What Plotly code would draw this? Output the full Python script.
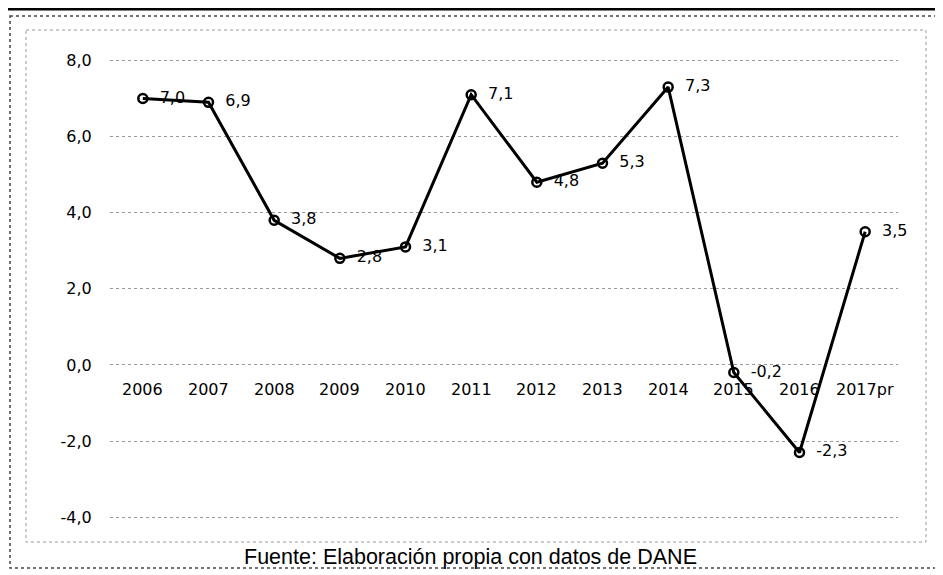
import plotly.graph_objects as go

# Datos
anios = ["2006", "2007", "2008", "2009", "2010", "2011", "2012", "2013", "2014", "2015", "2016", "2017pr"]
valores = [7.0, 6.9, 3.8, 2.8, 3.1, 7.1, 4.8, 5.3, 7.3, -0.2, -2.3, 3.5]
etiquetas = [f"{v:.1f}".replace(".", ",") for v in valores]
y_ticks = [8, 6, 4, 2, 0, -2, -4]
y_ticktext = [f"{v:.1f}".replace(".", ",") for v in y_ticks]
fuente = "Fuente: Elaboración propia con datos de DANE"

# la página tiene 8px de margen: todo se desplaza 8px
OFF = 8
W, H = 943 - OFF, 575 - OFF
L, R, T, B = 110 - OFF, 45, 30 - OFF, 35
pw, ph = W - L - R, H - T - B


def px_x(x):
    return (x - OFF - L) / pw


def px_y(y):
    return 1 - (y - OFF - T) / ph


fuente_ejes = dict(family="DejaVu Sans", size=16, color="black")

fig = go.Figure()

fig.add_trace(go.Scatter(
    x=anios,
    y=valores,
    mode="lines+markers+text",
    text=["  " + t for t in etiquetas],
    textposition="middle right",
    textfont=fuente_ejes,
    line=dict(color="black", width=3),
    marker=dict(symbol="circle-open", size=9, color="black", line=dict(width=2.5)),
    cliponaxis=False,
    showlegend=False,
))

# Etiquetas de años sobre la línea del cero
for i, a in enumerate(anios):
    fig.add_annotation(
        x=i, y=0, xref="x", yref="y", text=a, showarrow=False,
        yshift=-25, font=fuente_ejes,
    )

# Marcos punteados
fig.add_shape(type="rect", xref="paper", yref="paper",
              x0=px_x(10), x1=px_x(941), y0=px_y(16), y1=px_y(568),
              line=dict(color="#444", width=1.5, dash="dot"))
fig.add_shape(type="rect", xref="paper", yref="paper",
              x0=px_x(26), x1=px_x(926), y0=px_y(30), y1=px_y(542),
              line=dict(color="#999", width=1, dash="dot"))
fig.add_shape(type="line", xref="paper", yref="paper",
              x0=px_x(0), x1=px_x(943), y0=px_y(9), y1=px_y(9),
              line=dict(color="black", width=3))

fig.add_annotation(
    x=px_x(470), y=px_y(543), xref="paper", yref="paper", text=fuente,
    yanchor="top", showarrow=False,
    font=dict(family="Liberation Sans, Arial", size=21.5, color="black"),
)

fig.update_layout(
    width=W, height=H,
    margin=dict(l=L, r=R, t=T, b=B),
    paper_bgcolor="white", plot_bgcolor="white",
    xaxis=dict(type="category", range=[-0.5, 11.5], showticklabels=False,
               showgrid=False, zeroline=False, showline=False),
    yaxis=dict(range=[-4.6, 8.8], tickvals=y_ticks, ticktext=y_ticktext,
               showgrid=True, gridcolor="#999", griddash="dot", gridwidth=1,
               zeroline=False, showline=False, ticks="outside", ticklen=14,
               tickcolor="white", tickfont=fuente_ejes),
)

fig.write_html("out.html")
